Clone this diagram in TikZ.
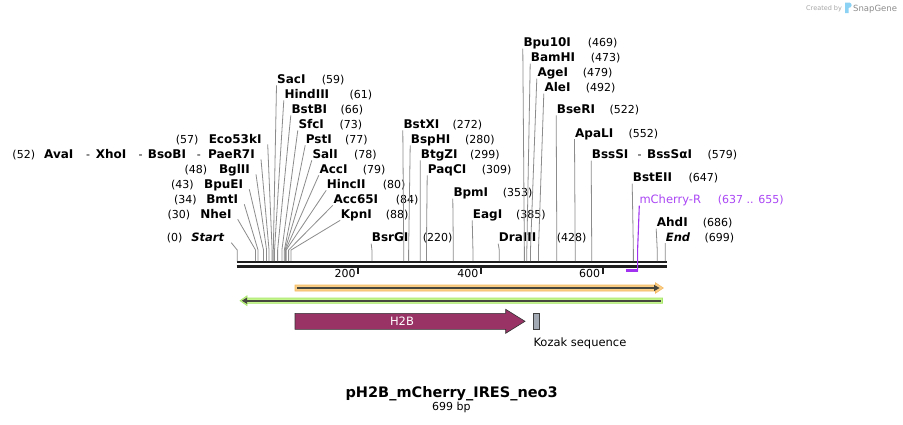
\documentclass[tikz,border=0pt]{standalone}
\usepackage{fontspec}
\setmainfont{DejaVu Sans}
\definecolor{sitegray}{RGB}{140,140,140}
\definecolor{bbcol}{RGB}{30,30,30}
\definecolor{primcol}{RGB}{160,50,240}
\definecolor{primtxt}{RGB}{170,70,245}
\definecolor{orfill}{RGB}{251,206,135}
\definecolor{ordraw}{RGB}{245,185,95}
\definecolor{grfill}{RGB}{196,245,140}
\definecolor{grdraw}{RGB}{165,230,105}
\definecolor{featline}{RGB}{70,70,62}
\definecolor{h2bcol}{RGB}{153,51,102}
\definecolor{kozcol}{RGB}{163,170,180}
\definecolor{sgblue}{RGB}{90,190,240}
\tikzset{
  enz/.style={inner sep=0pt, font=\bfseries\fontsize{12}{14}\selectfont},
  term/.style={inner sep=0pt, font=\bfseries\itshape\fontsize{11.5}{13}\selectfont},
  num/.style={inner sep=0pt, font=\fontsize{11}{13}\selectfont},
  site/.style={draw=sitegray, line width=0.8pt},
  backbone/.style={draw=bbcol, line width=2.3pt},
  tickmark/.style={draw=bbcol, line width=2pt},
  ticklab/.style={inner sep=0pt, anchor=base east, font=\fontsize{11}{13}\selectfont},
}
\newcommand\xp[1]{237.2+0.6123*#1}
% right-hand label: name, id, x, baseline, number, number x, position
\newcommand\rlab[7]{%
  \node[enz,anchor=base west] (#2) at (#3,#4) {#1};
  \node[num,anchor=base west] (#2n) at (#6,#4) {(#5)};
  \coordinate (#2b) at (\xp{#7},250);
  \coordinate (#2t) at (\xp{#7},261);
  \draw[site] ([xshift=-0.5pt,yshift=-2pt]#2.base west) -- (#2b) -- (#2t);
}
% left-hand label: name, id, right end x, baseline, number, number x, position
\newcommand\llab[7]{%
  \node[enz,anchor=base east] (#2) at (#3,#4) {#1};
  \node[num,anchor=base west] (#2n) at (#6,#4) {(#5)};
  \coordinate (#2b) at (\xp{#7},250);
  \coordinate (#2t) at (\xp{#7},261);
  \draw[site] ([xshift=6pt,yshift=-1pt]#2.base east) -- (#2b) -- (#2t);
}
\begin{document}
\begin{tikzpicture}[x=1pt,y=-1pt]
\useasboundingbox (0,0) rectangle (903,424);
\fill[white] (0,0) rectangle (903,424);

% backbone
\draw[backbone] (236.7,262.2) -- (666.5,262.2);
\draw[backbone] (236.7,266.5) -- (666.5,266.5);
% ticks
\foreach \t/\xx in {200/358.3,400/481,600/602.7}{
  \draw[tickmark] (\xx,267.5) -- (\xx,274);
  \node[ticklab] (tick\t) at (\xx-2.5,277) {\t};
}

% left cluster
\llab{Eco53kI}{eco}{261.7}{143.3}{57}{175.7}{57}
\node[num,anchor=base west] (avan) at (12.3,158.3) {(52)};
\node[enz,anchor=base west] (ava) at (44,158.3) {AvaI};
\node[num,anchor=base west] (d1) at (86,158.3) {-};
\node[enz,anchor=base west] (xho) at (95.7,158.3) {XhoI};
\node[num,anchor=base west] (d2) at (138.3,158.3) {-};
\node[enz,anchor=base west] (bso) at (147.7,158.3) {BsoBI};
\node[num,anchor=base west] (d3) at (196.7,158.3) {-};
\node[enz,anchor=base east] (pae) at (255,158.3) {PaeR7I};
\coordinate (paeb) at (\xp{52},250);
\coordinate (paet) at (\xp{52},261);
\draw[site] ([xshift=6pt,yshift=-1pt]pae.base east) -- (paeb) -- (paet);
\llab{BglII}{bgl}{250}{173.3}{48}{184.3}{48}
\llab{BpuEI}{bpu}{243.3}{188.3}{43}{171}{43}
\llab{BmtI}{bmt}{238.3}{203.3}{34}{174}{34}
\llab{NheI}{nhe}{231.7}{218.3}{30}{167.3}{30}
\node[term,anchor=base east] (start) at (224.3,241.7) {Start};
\node[num,anchor=base west] (startn) at (166.7,241.7) {(0)};
\coordinate (startb) at (\xp{0},250);
\coordinate (startt) at (\xp{0},261);
\draw[site] ([xshift=7pt,yshift=-1pt]start.base east) -- (startb) -- (startt);

% right cluster
\rlab{SacI}{sac}{277}{83.3}{59}{321.7}{59}
\rlab{HindIII}{hind}{284.3}{98.3}{61}{349.3}{61}
\rlab{BstBI}{bstb}{291.3}{113.3}{66}{340.3}{66}
\rlab{SfcI}{sfc}{298.3}{128.3}{73}{339.3}{73}
\rlab{PstI}{pst}{305.7}{143.3}{77}{345}{77}
\rlab{SalI}{sal}{312.3}{158.3}{78}{354}{78}
\rlab{AccI}{acc}{319.3}{173.3}{79}{362.7}{79}
\rlab{HincII}{hinc}{326.7}{188.3}{80}{382.7}{80}
\rlab{Acc65I}{acc65}{333.3}{203.3}{84}{395.7}{84}
\rlab{KpnI}{kpn}{340.7}{218.3}{88}{385.7}{88}
\rlab{BsrGI}{bsrg}{371.7}{241.7}{220}{422.7}{220}
\rlab{BstXI}{bstx}{403.3}{128.3}{272}{452.3}{272}
\rlab{BspHI}{bsph}{410.7}{143.3}{280}{465}{280}
\rlab{BtgZI}{btgz}{420.7}{158.3}{299}{470}{299}
\rlab{PaqCI}{paqc}{427.7}{173.3}{309}{481.7}{309}
\rlab{BpmI}{bpm}{453.3}{196.7}{353}{502.7}{353}
\rlab{EagI}{eag}{472.7}{218.3}{385}{516}{385}
\rlab{DraIII}{dra}{498.7}{241.7}{428}{556.7}{428}
\rlab{Bpu10I}{bpu10}{523.3}{46.7}{469}{587.7}{469}
\rlab{BamHI}{bam}{530.7}{61.7}{473}{590.7}{473}
\rlab{AgeI}{age}{537.3}{76.7}{479}{582.7}{479}
\rlab{AleI}{ale}{544.3}{91.7}{492}{585.7}{492}
\rlab{BseRI}{bser}{556.7}{113.3}{522}{609.3}{522}
\rlab{ApaLI}{apal}{575}{137}{552}{628.3}{552}
\rlab{BssSI}{bsss}{591.7}{158.5}{579}{707.3}{579}
\node[num,anchor=base west] (d4) at (637.5,158.5) {-};
\node[enz,anchor=base west] (bsssa) at (647,158.5) {BssSαI};
\rlab{BstEII}{bste}{632.7}{181.7}{647}{688.3}{647}
\rlab{AhdI}{ahd}{656.7}{226.7}{686}{702.7}{686}
\node[term,anchor=base west] (endl) at (665.7,241) {End};
\node[num,anchor=base west] (endn) at (704.3,241) {(699)};
\coordinate (endb) at (\xp{699},250);
\coordinate (endt) at (\xp{699},261);
\draw[site] ([xshift=-0.5pt,yshift=-2pt]endl.base west) -- (endb) -- (endt);

% primer mCherry-R
\node[inner sep=0pt,anchor=base west,text=primtxt,font=\fontsize{11.5}{13}\selectfont] (prim) at (639.3,203.7) {mCherry-R};
\node[inner sep=0pt,anchor=base west,text=primtxt,font=\fontsize{11}{13}\selectfont] (primn) at (717.7,203.7) {(637 .. 655)};
\coordinate (primb) at (637.6,250);
\coordinate (primc) at (637.6,270.5);
\coordinate (prime) at (626,270.5);
\draw[draw=primcol, line width=1.1pt] ([yshift=-2pt]prim.base west) -- (primb) -- (primc);
\draw[draw=primcol, line width=2.4pt] (638.3,270.5) -- (prime);

% orange forward feature
\path[fill=orfill, draw=ordraw, line width=0.6pt] (295,285) -- (655.5,285) -- (655.5,282.8) -- (663.3,288) -- (655.5,293.2) -- (655.5,291) -- (295,291) -- cycle;
\draw[draw=featline, line width=1.6pt] (297,288) -- (655,288);
\fill[featline] (654,284.8) -- (659.6,288) -- (654,291.2) -- cycle;

% green reverse feature
\path[fill=grfill, draw=grdraw, line width=0.6pt] (662.5,298) -- (247,298) -- (247,295.8) -- (240,300.7) -- (247,305.6) -- (247,303.4) -- (662.5,303.4) -- cycle;
\draw[draw=featline, line width=1.6pt] (660.5,300.7) -- (246,300.7);
\fill[featline] (247,297.5) -- (241.8,300.7) -- (247,303.9) -- cycle;

% H2B
\path[fill=h2bcol, draw=black!80, line width=0.6pt] (295,313.3) -- (505.7,313.3) -- (505.7,309.3) -- (525,321.3) -- (505.7,333.3) -- (505.7,329.3) -- (295,329.3) -- cycle;
\node[inner sep=0pt, text=white, font=\fontsize{11.5}{13}\selectfont] (h2b) at (402,321.3) {H2B};

% Kozak
\node[draw=black!75, fill=kozcol, line width=0.6pt, minimum width=6pt, minimum height=16pt, inner sep=0pt] (koz) at (536.3,321.3) {};
\node[inner sep=0pt, anchor=base west, font=\fontsize{11.5}{13}\selectfont] (kozl) at (533.3,346) {Kozak sequence};

% title
\node[inner sep=0pt, anchor=base, font=\bfseries\fontsize{14.5}{16}\selectfont] (title) at (451.7,397.7) {pH2B\_mCherry\_IRES\_neo3};
\node[inner sep=0pt, anchor=base, font=\fontsize{11}{13}\selectfont] (len) at (451.3,410) {699 bp};

% SnapGene credit
\node[inner sep=0pt, anchor=base west, text=black!35, font=\fontsize{6.5}{8}\selectfont] (cby) at (806,10) {Created by};
\fill[sgblue!70] (845,2.5) -- (849.5,2.5) .. controls (852.5,3.5) and (852.5,7.5) .. (848.5,8) -- (848.5,13) -- (845,13) -- cycle;
\node[inner sep=0pt, anchor=base west, text=black!45, font=\fontsize{8.5}{10}\selectfont] (sg) at (853,11) {SnapGene};
\end{tikzpicture}
\end{document}
